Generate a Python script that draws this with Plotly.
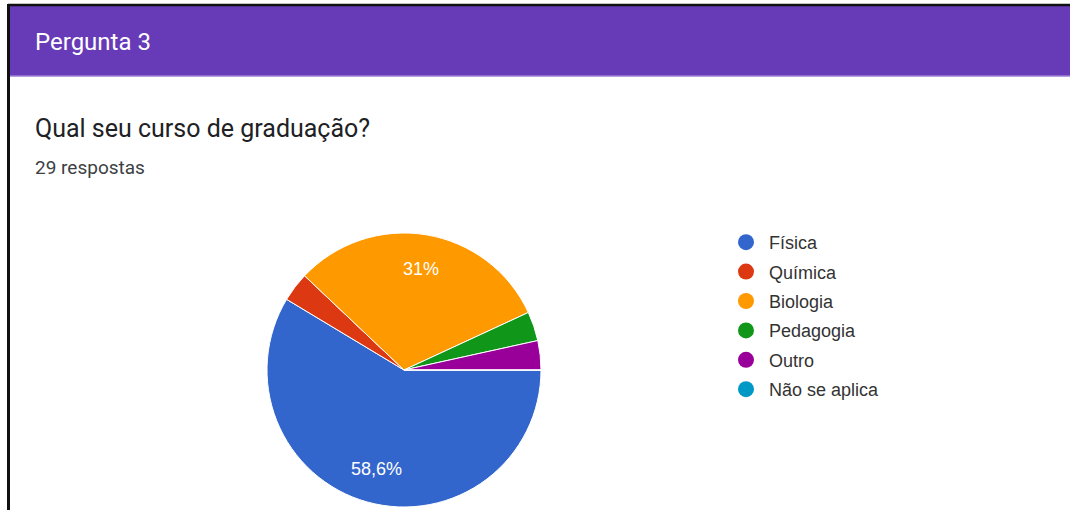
import math
import plotly.graph_objects as go

# ---- data ----
categories = ["Física", "Química", "Biologia", "Pedagogia", "Outro", "Não se aplica"]
responses = [17, 1, 9, 1, 1, 0]
colors = ["#3366CC", "#DC3912", "#FF9900", "#109618", "#990099", "#0099C6"]
header_text = "Pergunta 3"
question_text = "Qual seu curso de graduação?"
total = sum(responses)
count_text = f"{total} respostas"

W, H = 1070, 510
FONT = "Roboto, Arial, sans-serif"
CHART_FONT = "Arial, 'Liberation Sans', sans-serif"


def px(x):
    return x / W


def py(y):
    return 1 - y / H


def fmt_pct(v):
    p = round(v / total * 100, 1)
    s = f"{p:.1f}".rstrip("0").rstrip(".")
    return s.replace(".", ",") + "%"


# pie geometry (pixels)
PIE_X = (267, 541)
PIE_Y = (233, 507)
cx = (PIE_X[0] + PIE_X[1]) / 2
cy = (PIE_Y[0] + PIE_Y[1]) / 2
R = min(PIE_X[1] - PIE_X[0], PIE_Y[1] - PIE_Y[0]) / 2

fig = go.Figure()

fig.add_trace(go.Pie(
    labels=categories,
    values=responses,
    textinfo="none",
    marker=dict(colors=colors, line=dict(color="white", width=1)),
    sort=False,
    direction="clockwise",
    rotation=90,
    showlegend=False,
    domain=dict(x=[px(PIE_X[0]), px(PIE_X[1])], y=[py(PIE_Y[1]), py(PIE_Y[0])]),
    hoverinfo="label+value+percent",
))

# legend entries (circular markers, like Google Forms)
for i, (name, col) in enumerate(zip(categories, colors)):
    fig.add_trace(go.Scatter(
        x=[None], y=[None], mode="markers", name=name,
        marker=dict(color=col, size=17, symbol="circle", line=dict(width=0)),
        legendgroup=f"g{i}", showlegend=True, hoverinfo="skip",
    ))

shapes = [
    # purple header
    dict(type="rect", xref="paper", yref="paper", x0=px(10), x1=px(1070), y0=py(76), y1=py(5),
         fillcolor="#673AB7", line=dict(width=0), layer="below"),
    dict(type="line", xref="paper", yref="paper", x0=px(10), x1=px(1070), y0=py(76), y1=py(76),
         line=dict(color="#9C7FD6", width=1.5)),
    # black frame (top and left)
    dict(type="line", xref="paper", yref="paper", x0=px(8), x1=px(1070), y0=py(5), y1=py(5),
         line=dict(color="#111111", width=2.5)),
    dict(type="line", xref="paper", yref="paper", x0=px(8.5), x1=px(8.5), y0=py(4), y1=py(510),
         line=dict(color="#111111", width=3)),
]

annotations = [
    dict(text=header_text, x=px(33), y=py(42), xref="paper", yref="paper",
         xanchor="left", yanchor="middle", showarrow=False,
         font=dict(family=FONT, size=24, color="white")),
    dict(text=question_text, x=px(33), y=py(128), xref="paper", yref="paper",
         xanchor="left", yanchor="middle", showarrow=False,
         font=dict(family=FONT, size=25, color="#202124")),
    dict(text=count_text, x=px(33), y=py(168), xref="paper", yref="paper",
         xanchor="left", yanchor="middle", showarrow=False,
         font=dict(family=FONT, size=19, color="#3c4043")),
]

# slice percentage labels, placed on each slice's mid-angle (from the data)
cum = 0
for v in responses:
    frac = v / total
    if frac >= 0.05:
        mid = math.radians((cum + v / 2) / total * 360)
        lx = cx + 0.75 * R * math.cos(mid)
        ly = cy + 0.75 * R * math.sin(mid)
        annotations.append(dict(
            text=fmt_pct(v), x=px(lx), y=py(ly), xref="paper", yref="paper",
            xanchor="center", yanchor="middle", showarrow=False,
            font=dict(family=CHART_FONT, size=18, color="white")))
    cum += v

fig.update_layout(
    width=W, height=H,
    margin=dict(l=0, r=0, t=0, b=0),
    paper_bgcolor="white", plot_bgcolor="white",
    separators=",.",
    shapes=shapes,
    annotations=annotations,
    xaxis=dict(visible=False),
    yaxis=dict(visible=False),
    legend=dict(
        x=px(723), y=py(224), xanchor="left", yanchor="top",
        font=dict(family=CHART_FONT, size=18, color="#333333"),
        tracegroupgap=3, itemsizing="trace", itemwidth=36,
        bgcolor="rgba(0,0,0,0)",
    ),
    showlegend=True,
)

fig.write_html("out.html")
